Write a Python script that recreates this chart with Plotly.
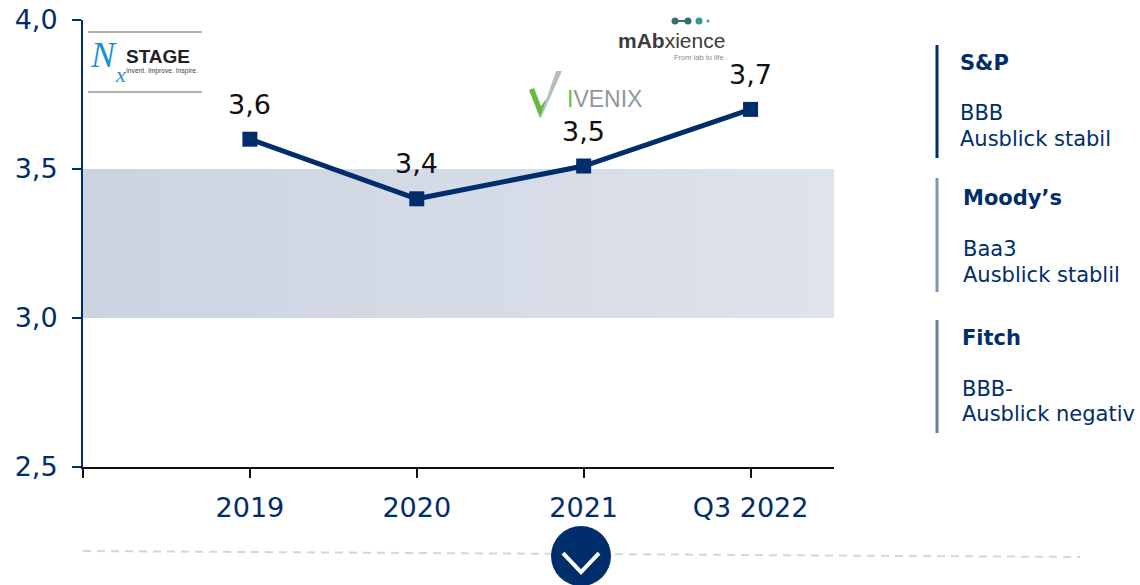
import plotly.graph_objects as go

W, H = 1140, 585
NAVY = "#002d6b"
FONT = "DejaVu Sans"

categories = ["2019", "2020", "2021", "Q3 2022"]
values = [3.6, 3.4, 3.51, 3.7]
value_labels = ["3,6", "3,4", "3,5", "3,7"]
y_ticks = [2.5, 3.0, 3.5, 4.0]
band_low, band_high = 3.0, 3.5

agencies = ["S&P", "Moody’s", "Fitch"]
ratings = ["BBB", "Baa3", "BBB-"]
outlooks = ["Ausblick stabil", "Ausblick stablil", "Ausblick negativ"]


def px(x):
    return x / W


def py(y):
    return 1 - y / H


def label(fig, x, y, text, size, color=NAVY, family=FONT, anchor="left"):
    fig.add_annotation(xref="paper", yref="paper", x=px(x), y=py(y), text=text,
                       showarrow=False, xanchor=anchor, yanchor="middle",
                       font=dict(size=size, color=color, family=family),
                       borderpad=0, borderwidth=0)


def line(fig, x0, y0, x1, y1, color, width, dash=None):
    fig.add_shape(type="line", xref="paper", yref="paper",
                  x0=px(x0), y0=py(y0), x1=px(x1), y1=py(y1),
                  line=dict(color=color, width=width, dash=dash))


def poly(fig, pts, fill=None, stroke=None, width=0):
    d = "M" + " L".join(f"{px(x):.5f},{py(y):.5f}" for x, y in pts)
    if fill:
        d += " Z"
    fig.add_shape(type="path", xref="paper", yref="paper", path=d,
                  fillcolor=fill, line=dict(color=stroke or "rgba(0,0,0,0)", width=width))


def dot(fig, x, y, r, color):
    fig.add_shape(type="circle", xref="paper", yref="paper",
                  x0=px(x - r), x1=px(x + r), y0=py(y + r), y1=py(y - r),
                  fillcolor=color, line=dict(width=0))


fig = go.Figure()

# shaded target band
fig.add_trace(go.Scatter(
    x=[-1, 3.5, 3.5, -1, -1],
    y=[band_low, band_low, band_high, band_high, band_low],
    mode="lines", line=dict(width=0), fill="toself",
    fillgradient=dict(type="horizontal", colorscale=[[0, "#cbd3e1"], [1, "#dfe3ec"]]),
    hoverinfo="skip", showlegend=False,
))

fig.add_trace(go.Scatter(
    x=list(range(len(categories))), y=values, mode="lines+markers",
    line=dict(color=NAVY, width=5),
    marker=dict(symbol="square", size=15, color=NAVY),
    showlegend=False,
))

for i, (v, t) in enumerate(zip(values, value_labels)):
    fig.add_annotation(x=i, y=v, text=t, showarrow=False, yshift=35,
                       font=dict(size=27, color="#111111", family=FONT))

# rating panel on the right
bar_colors = [NAVY, "#7f95b8", "#6a7fa3"]
bar_spans = [(45, 158), (178, 292), (320, 433)]
text_x = [960, 963, 962]
text_y = [(63, 113, 139), (198, 249, 275), (338, 389, 414)]
for k in range(3):
    line(fig, 937, bar_spans[k][0], 937, bar_spans[k][1], bar_colors[k], 3)
    label(fig, text_x[k], text_y[k][0], f"<b>{agencies[k]}</b>", 21)
    label(fig, text_x[k], text_y[k][1], ratings[k], 21)
    label(fig, text_x[k], text_y[k][2], outlooks[k], 21)

# dashed rule and round arrow button
line(fig, 83, 551, 1080, 557, "#cfd6e4", 2, "8px,6px")
dot(fig, 581, 556, 30, NAVY)
poly(fig, [(563, 553), (581, 572), (599, 553)], stroke="white", width=4)

# NxStage logo
line(fig, 88, 32, 202, 32, "#b5b1a8", 2)
line(fig, 88, 92, 202, 92, "#b5b1a8", 2)
label(fig, 90, 55, "<i>N</i>", 36, "#1f8fd0", "Liberation Serif")
label(fig, 115, 74, "<i>x</i>", 22, "#1f8fd0", "Liberation Serif")
label(fig, 126, 57, "<b>STAGE</b>", 19, "#222222", "Liberation Sans")
label(fig, 126, 71, "Invent. Improve. Inspire.", 6.7, "#444444", "Liberation Sans")

# mAbxience logo
line(fig, 675, 21, 688, 21, "#3f6b70", 2)
dot(fig, 675, 21, 3.5, "#3f6b70")
dot(fig, 688, 21, 3.5, "#2f6f75")
dot(fig, 699, 21, 3.5, "#2a9a9a")
dot(fig, 708, 21, 1.5, "#2aa5a5")
label(fig, 618, 41, "<b>mAb</b>xience", 21, "#3c3c3c", "Liberation Sans")
label(fig, 674, 58, "From lab to life", 7.5, "#8a8a8a", "Liberation Sans")

# Ivenix logo
poly(fig, [(529, 90), (534, 88), (541, 106), (547, 98), (540, 118)], fill="#66bb44")
poly(fig, [(540, 118), (556, 71), (562, 71), (541, 118)], fill="#b4bfc2")
label(fig, 567, 99, "<span style='color:#6cbf4b'>I</span>VENIX", 23, "#8d9a9a", "Liberation Sans")

fig.update_layout(
    width=W, height=H, margin=dict(l=0, r=0, t=0, b=0),
    paper_bgcolor="white", plot_bgcolor="white",
    separators=",.", showlegend=False,
    font=dict(family=FONT, size=26, color=NAVY),
    xaxis=dict(
        domain=[px(83), px(834)], range=[-1, 3.5], automargin=False,
        tickmode="array", tickvals=[-1, 0, 1, 2, 3], ticktext=[""] + categories,
        ticks="outside", ticklen=9, tickwidth=2, tickcolor="#111111",
        showline=True, linecolor="#111111", linewidth=2,
        showgrid=False, zeroline=False, ticklabelstandoff=7,
        tickfont=dict(size=27, color=NAVY, family=FONT),
    ),
    yaxis=dict(
        domain=[py(467), py(20)], range=[2.5, 4.0], automargin=False,
        tickmode="array", tickvals=y_ticks, tickformat=".1f",
        ticks="outside", ticklen=9, tickwidth=2, tickcolor=NAVY,
        showline=True, linecolor=NAVY, linewidth=2,
        showgrid=False, zeroline=False, ticklabelstandoff=9,
        tickfont=dict(size=27, color=NAVY, family=FONT),
    ),
)

fig.write_html("out.html", config={"displayModeBar": False},
               post_script="document.body.style.margin='0';document.body.style.overflow='hidden';")
